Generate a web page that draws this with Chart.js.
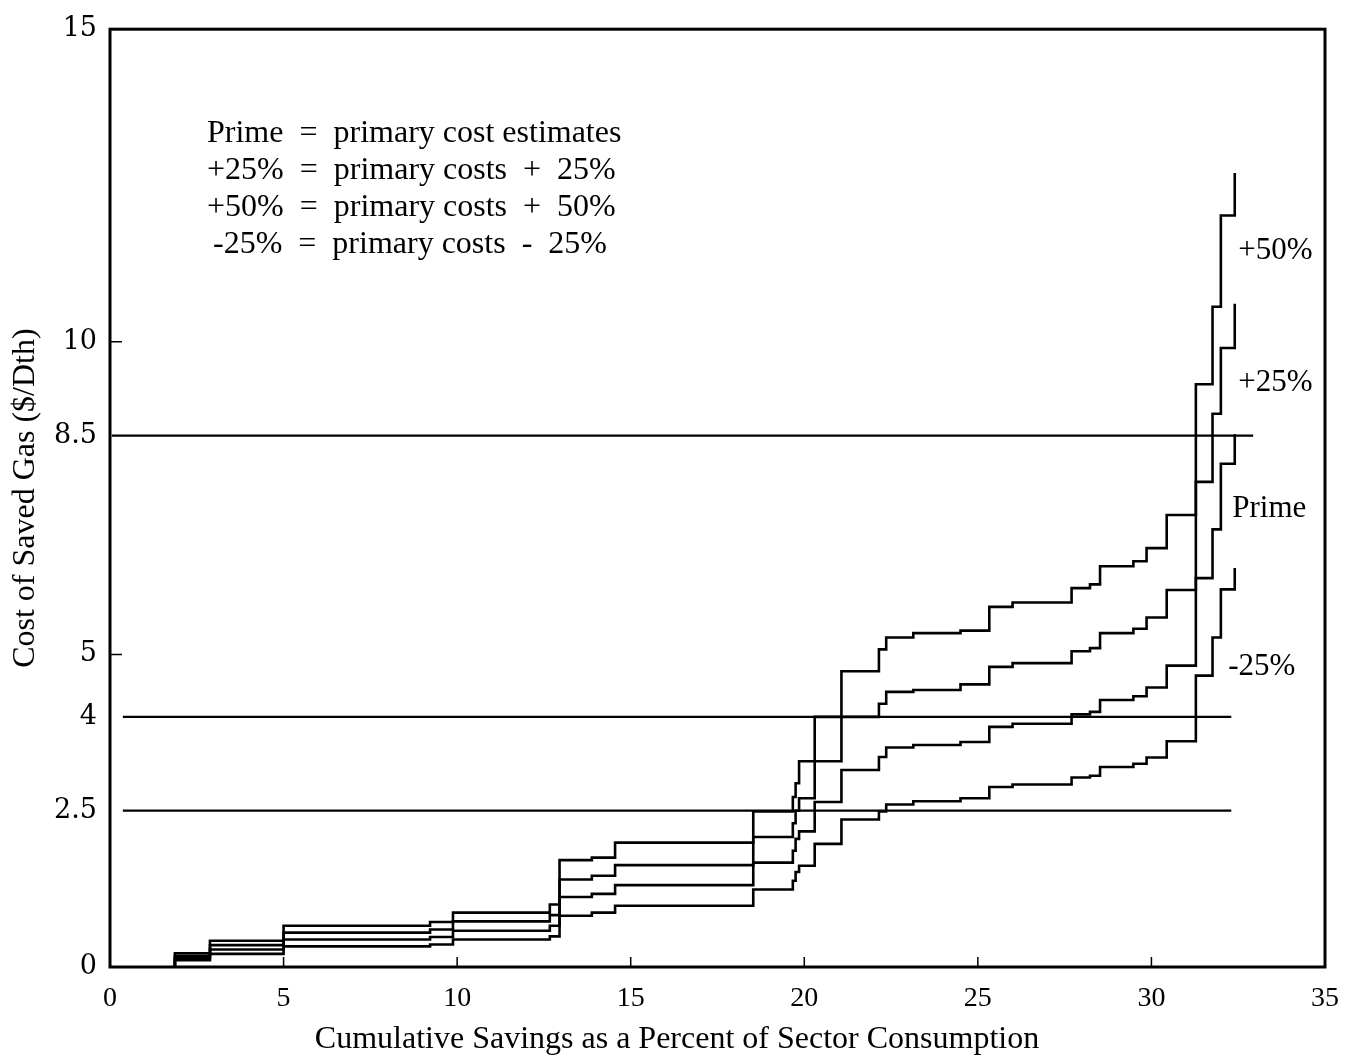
<!DOCTYPE html>
<html>
<head>
<meta charset="utf-8">
<title>Cost of Saved Gas</title>
<script src="https://cdn.jsdelivr.net/npm/chart.js@4.4.0/dist/chart.umd.min.js"></script>
<style>
  html, body { margin: 0; padding: 0; background: #fff; }
  #wrap { width: 1354px; height: 1063px; position: relative; }
</style>
</head>
<body>
<div id="wrap"><canvas id="chartCost"></canvas></div>
<script>
/* ── Data ─────────────────────────────────────────────────── */
// step break points, cumulative savings (% of sector consumption)
const savings = [1.87, 1.87, 2.88, 5.0, 9.22, 9.88, 12.67, 12.95, 13.88, 14.55,
  18.53, 19.67, 19.75, 19.85, 20.3, 21.07, 22.15, 22.36, 23.14, 24.5,
  25.33, 26.0, 27.7, 28.23, 28.52, 29.48, 29.86, 30.44, 31.28, 31.76,
  32.0, 32.4];

// cost of saved gas ($/Dth) from each break point on
const plus50 = [0, 0.22, 0.42, 0.66, 0.72, 0.87, 1.0, 1.71, 1.75, 1.99,
  2.49, 2.72, 2.94, 3.29, 4.0, 4.73, 5.08, 5.27, 5.34, 5.38,
  5.76, 5.83, 6.06, 6.12, 6.41, 6.49, 6.70, 7.23, 9.32, 10.56,
  12.02, 12.7];
const plus25 = [0, 0.18, 0.35, 0.55, 0.60, 0.73, 0.83, 1.40, 1.46, 1.63,
  2.08, 2.30, 2.50, 2.70, 3.29, 4.0, 4.21, 4.40, 4.43, 4.52,
  4.80, 4.86, 5.05, 5.10, 5.34, 5.41, 5.59, 6.03, 7.76, 8.85,
  9.90, 10.61];
const prime = [0, 0.15, 0.28, 0.44, 0.48, 0.58, 0.66, 1.12, 1.17, 1.31,
  1.67, 1.86, 2.05, 2.17, 2.64, 3.15, 3.36, 3.51, 3.55, 3.60,
  3.84, 3.89, 4.04, 4.08, 4.27, 4.33, 4.47, 4.82, 6.22, 7.0,
  8.05, 8.52];
const minus25 = [0, 0.11, 0.21, 0.33, 0.36, 0.44, 0.49, 0.82, 0.87, 0.98,
  1.24, 1.38, 1.52, 1.62, 1.97, 2.36, 2.49, 2.60, 2.65, 2.70,
  2.88, 2.92, 3.03, 3.06, 3.20, 3.25, 3.35, 3.61, 4.66, 5.27,
  6.04, 6.38];

// horizontal reference costs
const refLevels = [8.5, 4, 2.5];
const refFrom = [0.05, 0.37, 0.37];
const refTo = [32.93, 32.3, 32.3];

const yTicks = [0, 2.5, 4, 5, 8.5, 10, 15];

const legendLines = [
  'Prime  =  primary cost estimates',
  '+25%  =  primary costs  +  25%',
  '+50%  =  primary costs  +  50%',
  '-25%  =  primary costs  -  25%',
];
const curveLabels = ['+50%', '+25%', 'Prime', '-25%'];
const curveLabelY = [11.45, 9.35, 7.33, 4.8];

const SERIF = "'Liberation Serif', 'Times New Roman', serif";

/* ── Helpers ──────────────────────────────────────────────── */
const toPoints = (ys) => savings.map((x, i) => ({ x, y: ys[i] }));

const stepCurve = (label, ys) => ({
  label,
  data: toPoints(ys),
  showLine: true,
  stepped: 'before',
  borderColor: '#000',
  borderWidth: 2.6,
  pointRadius: 0,
  fill: false,
});

const refLine = (i) => ({
  label: 'ref ' + refLevels[i],
  data: [{ x: refFrom[i], y: refLevels[i] }, { x: refTo[i], y: refLevels[i] }],
  showLine: true,
  borderColor: '#000',
  borderWidth: 2.2,
  pointRadius: 0,
  fill: false,
});

/* ── Frame, inward ticks and notes ────────────────────────── */
const frameAndNotes = {
  id: 'frameAndNotes',
  afterDraw(chart) {
    const { ctx, chartArea: a, scales: { x, y } } = chart;
    ctx.save();
    ctx.strokeStyle = '#000';
    ctx.lineWidth = 3;
    ctx.strokeRect(a.left, a.top, a.right - a.left, a.bottom - a.top);

    ctx.lineWidth = 1.5;
    ctx.beginPath();
    x.ticks.forEach(t => {
      if (t.value <= x.min || t.value >= x.max) return;
      const px = x.getPixelForValue(t.value);
      ctx.moveTo(px, a.bottom);
      ctx.lineTo(px, a.bottom - 10);
    });
    [5, 10].forEach(v => {
      const py = y.getPixelForValue(v);
      ctx.moveTo(a.left, py);
      ctx.lineTo(a.left + 12, py);
    });
    ctx.stroke();

    ctx.fillStyle = '#000';
    ctx.textBaseline = 'middle';
    ctx.font = `32px ${SERIF}`;
    ctx.textAlign = 'left';
    legendLines.forEach((t, i) => {
      ctx.fillText(t, 207 + (i === 3 ? 6 : 0), 134 + i * 36.7);
    });

    ctx.font = `31px ${SERIF}`;
    curveLabels.forEach((t, i) => {
      const px = x.getPixelForValue(32.5) - (t === 'Prime' ? 6 : t === '-25%' ? 10 : 0);
      ctx.fillText(t, px, y.getPixelForValue(curveLabelY[i]));
    });

    ctx.textAlign = 'center';
    ctx.font = `32px ${SERIF}`;
    ctx.fillText('Cumulative Savings as a Percent of Sector Consumption', 677, 1040);
    ctx.restore();
  },
};

/* ── Chart ────────────────────────────────────────────────── */
new Chart(document.getElementById('chartCost'), {
  type: 'scatter',
  data: {
    datasets: [
      stepCurve('+50%', plus50),
      stepCurve('+25%', plus25),
      stepCurve('Prime', prime),
      stepCurve('-25%', minus25),
      refLine(0), refLine(1), refLine(2),
    ],
  },
  options: {
    responsive: true,
    maintainAspectRatio: false,
    animation: false,
    layout: { padding: { top: 22, right: 29, bottom: 0, left: 0 } },
    plugins: {
      legend: { display: false },
      tooltip: { enabled: false },
    },
    scales: {
      x: {
        type: 'linear',
        min: 0,
        max: 35,
        afterFit: (s) => { s.height = 96; },
        grid: { display: false, drawTicks: false },
        border: { display: false },
        ticks: {
          stepSize: 5,
          padding: 15,
          color: '#000',
          font: { family: SERIF, size: 28 },
        },
      },
      y: {
        type: 'linear',
        min: 0,
        max: 15,
        afterFit: (s) => { s.width = 110; },
        afterBuildTicks: (s) => { s.ticks = yTicks.map(v => ({ value: v })); },
        grid: { display: false, drawTicks: false },
        border: { display: false },
        ticks: {
          autoSkip: false,
          padding: 13,
          color: '#000',
          font: { family: "'DejaVu Serif', serif", size: 27 },
          callback: (v) => String(v),
        },
        title: {
          display: true,
          text: 'Cost of Saved Gas ($/Dth)',
          color: '#000',
          padding: { top: 6, bottom: 0 },
          font: { family: SERIF, size: 32 },
        },
      },
    },
  },
  plugins: [frameAndNotes],
});
</script>
</body>
</html>
